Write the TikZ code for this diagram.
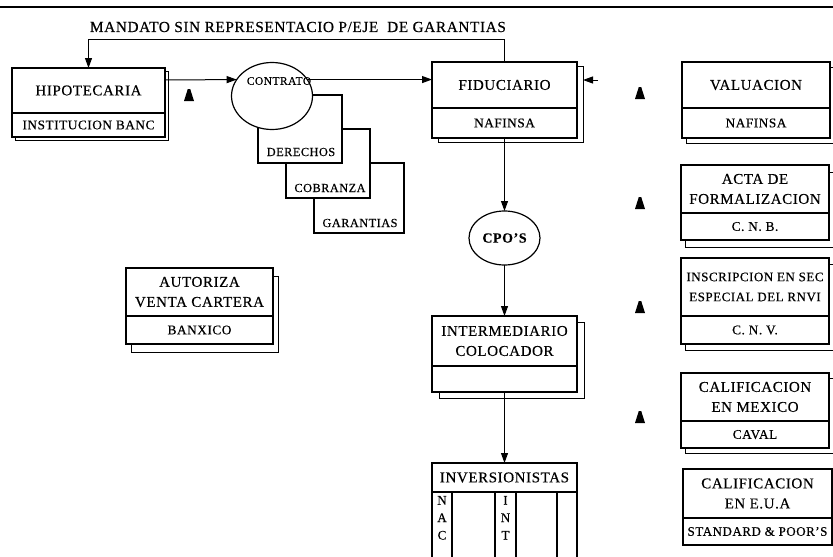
\documentclass[tikz,border=0pt]{standalone}
\usepackage{fontspec}
\setmainfont{Liberation Serif}[LetterSpace=4,FakeBold=0.4]
\usetikzlibrary{arrows.meta,calc,shapes.geometric}
\pgfdeclarelayer{background}
\pgfsetlayers{background,main}

% type sizes used in the chart
\newcommand\dgTitle{\fontsize{15.3}{17}\selectfont}
\newcommand\dgMain{\fontsize{15}{20}\selectfont}
\newcommand\dgNarrow{\fontsize{13}{20}\selectfont}
\newcommand\dgSub{\fontsize{13.3}{15}\selectfont}
\newcommand\dgSmall{\fontsize{12.3}{14}\selectfont}
\newcommand\dgCol{\fontsize{13}{17.5}\selectfont}

\begin{document}
\begin{tikzpicture}[x=1pt,y=-1pt,
  every node/.style={inner sep=0pt,outer sep=0pt},
  part/.style={draw,line width=1.2pt,fill=white,anchor=north west,align=center},
  main/.style={font=\dgMain},
  narrow/.style={font=\dgNarrow},
  sub/.style={font=\dgSub},
  small/.style={font=\dgSmall},
  shd/.style={line width=0.8pt},
  conn/.style={line width=1pt},
  arr/.style={conn,-{Triangle[length=10pt,width=7pt]}},
  tri/.pic={\fill (-5,6) -- (-1.2,-6) -- (1.2,-6) -- (5,6) -- cycle;}
]
\useasboundingbox (0,0) rectangle (833,557);
\clip (0,0) rectangle (833,557);

% rule and heading
\draw[line width=1.5pt] (0,7) -- (833,7);
\node[anchor=west,font=\dgTitle] (mandato) at (90,27)
  {MANDATO SIN REPRESENTACIO P/EJE\ \ DE GARANTIAS};

% mortgage institution
\node[part,main,minimum width=153pt,minimum height=45pt] (hipoT) at (12,68) {HIPOTECARIA};
\node[part,sub,minimum width=153pt,minimum height=24pt] (hipoB) at (hipoT.south west) {INSTITUCION BANC};

% stacked cards behind the contract
\node[part,minimum width=90pt,minimum height=70pt] (garC) at (314,163) {};
\node[small] (garT) at (360,223) {GARANTIAS};
\node[part,minimum width=84pt,minimum height=69pt] (cobC) at (286,129) {};
\node[small] (cobT) at (330,188) {COBRANZA};
\node[part,minimum width=84pt,minimum height=68pt] (derC) at (258,95) {};
\node[small] (derT) at (301,152) {DERECHOS};
\node[draw,ellipse,fill=white,line width=1.2pt,minimum width=81pt,minimum height=67pt] (contrato) at (272,96) {};
\node[font=\fontsize{11.5}{13}\selectfont] (contratoT) at (279,81) {CONTRATO};

% trustee
\node[part,main,minimum width=145pt,minimum height=46pt] (fidT) at (432,62) {FIDUCIARIO};
\node[part,sub,minimum width=145pt,minimum height=30pt] (fidB) at (fidT.south west) {NAFINSA};

% certificates
\node[draw,ellipse,fill=white,line width=1.2pt,minimum width=71pt,minimum height=54pt,
      font=\fontsize{14}{16}\bfseries] (cpo) at (504.5,238) {CPO'S};

% placement agent
\node[part,main,minimum width=145pt,minimum height=50pt] (interT) at (432,316) {INTERMEDIARIO\\COLOCADOR};
\node[part,minimum width=145pt,minimum height=26pt] (interB) at (interT.south west) {};

% investors
\node[part,main,minimum width=145pt,minimum height=29pt] (invH) at (432,463) {INVERSIONISTAS};
\node[part,minimum width=20pt,minimum height=75pt] (invC1) at (432,492) {};
\node[part,minimum width=43pt,minimum height=75pt] (invC2) at (invC1.north east) {};
\node[part,minimum width=21pt,minimum height=75pt] (invC3) at (invC2.north east) {};
\node[part,minimum width=41pt,minimum height=75pt] (invC4) at (invC3.north east) {};
\node[part,minimum width=20pt,minimum height=75pt] (invC5) at (invC4.north east) {};
\node[font=\dgCol,align=center,anchor=north] (nacT) at ($(invC1.north)+(0,4)$) {N\\A\\C};
\node[font=\dgCol,align=center,anchor=north] (intT) at ($(invC3.north)+(0,4)$) {I\\N\\T};

% central bank approval
\node[part,main,minimum width=147pt,minimum height=48pt] (autT) at (126,268) {AUTORIZA\\VENTA CARTERA};
\node[part,sub,minimum width=147pt,minimum height=28pt] (autB) at (autT.south west) {BANXICO};

% column of requirements
\node[part,main,minimum width=148pt,minimum height=46pt] (valT) at (682,62) {VALUACION};
\node[part,sub,minimum width=148pt,minimum height=30pt] (valB) at (valT.south west) {NAFINSA};

\node[part,main,minimum width=148pt,minimum height=48pt] (actaT) at (681,165) {ACTA DE\\FORMALIZACION};
\node[part,sub,minimum width=148pt,minimum height=27pt] (actaB) at (actaT.south west) {C.\ N.\ B.};

\node[part,narrow,minimum width=148pt,minimum height=58pt] (inscT) at (681,258) {INSCRIPCION EN SEC\\ESPECIAL DEL RNVI};
\node[part,sub,minimum width=148pt,minimum height=28pt] (inscB) at (inscT.south west) {C.\ N.\ V.};

\node[part,main,minimum width=148pt,minimum height=48pt] (calmT) at (681,373) {CALIFICACION\\EN MEXICO};
\node[part,sub,minimum width=148pt,minimum height=27pt] (calmB) at (calmT.south west) {CAVAL};

\node[part,main,minimum width=149pt,minimum height=49pt] (caleT) at (683,469) {CALIFICACION\\EN E.U.A};
\node[part,font=\fontsize{13}{15}\selectfont,minimum width=149pt,minimum height=27pt] (caleB) at (caleT.south west) {STANDARD \& POOR'S};

% offset outlines behind the boxes
\begin{pgfonlayer}{background}
  \draw[shd] ($(hipoT.north west)+(3,3)$) rectangle ($(hipoB.south east)+(3,3)$);
  \draw[shd] ($(fidT.north west)+(6,4)$) rectangle ($(fidB.south east)+(6,4)$);
  \draw[shd] ($(valT.north west)+(4,5)$) rectangle ($(valB.south east)+(4,5)$);
  \draw[shd] ($(actaT.north west)+(4,7)$) rectangle ($(actaB.south east)+(4,7)$);
  \draw[shd] ($(inscT.north west)+(4,6)$) rectangle ($(inscB.south east)+(4,6)$);
  \draw[shd] ($(calmT.north west)+(4,5)$) rectangle ($(calmB.south east)+(4,5)$);
  \draw[shd] ($(autT.north west)+(5,8)$) rectangle ($(autB.south east)+(5,8)$);
  \draw[shd] ($(interT.north west)+(7,6)$) rectangle ($(interB.south east)+(7,6)$);
\end{pgfonlayer}

% connectors
\draw[arr] ($(hipoT.north east)+(0,12)$) -- (contrato.155);
\draw[arr] (contrato.25) -- (contrato.25 -| fidT.west);
\draw[arr] (fidT.north) -- ++(0,-23) -| (hipoT.north);
\coordinate (fidIn) at (598,80);
\coordinate (fidEdge) at ($(fidT.north east)+(6,0)$);
\draw[arr] (fidIn) -- (fidIn -| fidEdge);
\draw[arr] (fidB.south) -- (cpo.north);
\draw[arr] (cpo.south) -- (interT.north);
\draw[arr] (interB.south) -- (invH.north);

% small triangle marks
\pic at (189,95) {tri};
\pic at (640,93) {tri};
\pic at (640,203) {tri};
\pic at (640,307) {tri};
\pic at (640,417) {tri};
\end{tikzpicture}
\end{document}
